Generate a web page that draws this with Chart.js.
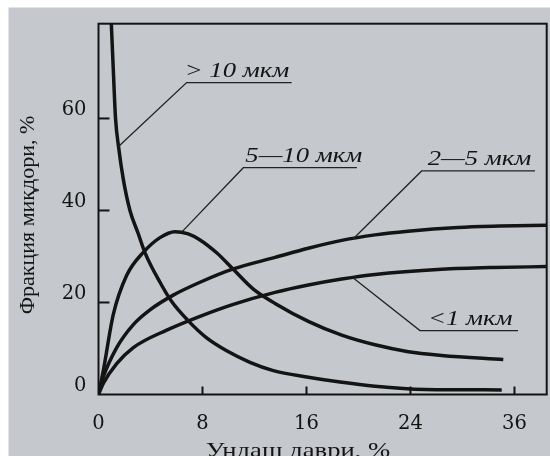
<!DOCTYPE html>
<html><head><meta charset="utf-8">
<script src="https://cdn.jsdelivr.net/npm/chart.js@4"></script>
<style>html,body{margin:0;padding:0;background:#fff;overflow:hidden}#wrap{width:550px;height:456px;position:relative}</style>
</head><body><div id="wrap"><canvas id="c" width="550" height="456"></canvas></div>
<script>
// ---- data ----
const xTickValues = [0, 8, 16, 24, 32];
const xTickLabels = ['0', '8', '16', '24', '36'];
const yTickValues = [0, 20, 40, 60];
const seriesNames = ['> 10 мкм', '5—10 мкм', '2—5 мкм', '<1 мкм'];
const xTitle = 'Ундаш даври, %';
const yTitle = 'Фракция миқдори, %';

const over10X = [0.98, 1.14, 1.31, 1.54, 1.92, 2.42, 3.04, 3.58, 4.73, 5.63, 6.91, 8.32, 9.86, 11.65, 13.45, 16.02, 18.58, 21.27, 25.12, 31.02];
const over10Y = [81.0, 70.5, 60.0, 53.9, 46.6, 40.0, 35.1, 30.8, 24.4, 20.2, 16.0, 12.3, 9.5, 7.0, 5.2, 3.8, 2.7, 1.8, 1.1, 1.0];

const f5to10X = [0, 0.37, 1.14, 2.17, 3.45, 4.73, 5.88, 6.9, 7.81, 9.09, 10.37, 11.91, 13.58, 16.14, 18.71, 21.27, 23.83, 26.4, 31.14];
const f5to10Y = [0, 5.2, 17.4, 25.9, 30.9, 34.1, 35.4, 34.9, 33.6, 30.8, 27.2, 22.9, 19.8, 15.9, 12.9, 10.8, 9.3, 8.5, 7.6];

const f2to5X = [0, 0.37, 1.4, 2.68, 3.96, 5.75, 7.81, 10.37, 13.58, 16.14, 18.71, 21.27, 23.81, 27.65, 30.88, 34.48];
const f2to5Y = [0, 3.8, 10.2, 15.2, 18.4, 21.6, 24.4, 27.3, 29.8, 31.8, 33.5, 34.7, 35.5, 36.3, 36.6, 36.8];

const under1X = [0, 0.37, 1.4, 2.68, 5.25, 7.81, 10.37, 13.58, 16.14, 18.71, 21.27, 26.4, 30.4, 34.48];
const under1Y = [0, 2.4, 6.7, 10.2, 14.0, 17.0, 19.6, 22.2, 23.8, 25.1, 26.1, 27.2, 27.6, 27.8];

// ---- rendering ----
const SERIF = '"Liberation Serif", "DejaVu Serif", serif';
const TICKFONT = '"DejaVu Serif", "Liberation Serif", serif';
const INK = '#141414';
const STRETCH = 1.27;
const toPts = (xs, ys) => xs.map((v, i) => ({x: v, y: ys[i]}));

const ds = (label, xs, ys) => ({
  label, data: toPts(xs, ys), borderColor: INK, borderWidth: 3.5,
  pointRadius: 0, fill: false, cubicInterpolationMode: 'monotone'
});

function stretchedText(c, text, x, y) {
  c.save();
  c.translate(x, y);
  c.scale(STRETCH, 1);
  c.fillText(text, 0, 0);
  c.restore();
}

const paper = {
  id: 'paper',
  beforeDraw(chart) {
    const c = chart.ctx;
    c.save();
    c.fillStyle = '#ffffff';
    c.fillRect(0, 0, chart.width, chart.height);
    c.fillStyle = '#c5c8cc';
    c.fillRect(8.5, 7.5, chart.width - 8.5, chart.height - 7.5);
    c.restore();
  },
  afterDatasetsDraw(chart) {
    const c = chart.ctx, a = chart.chartArea, xs = chart.scales.x, ys = chart.scales.y;
    c.save();
    // frame
    c.strokeStyle = INK; c.lineWidth = 2;
    c.strokeRect(a.left, a.top, a.right - a.left, a.bottom - a.top);
    // inward ticks
    xs.ticks.forEach(t => {
      if (t.value === 0) return;
      const px = xs.getPixelForValue(t.value);
      c.beginPath(); c.moveTo(px, a.bottom); c.lineTo(px, a.bottom - 8); c.stroke();
    });
    ys.ticks.forEach(t => {
      if (t.value === 0) return;
      const py = ys.getPixelForValue(t.value);
      c.beginPath(); c.moveTo(a.left, py); c.lineTo(a.left + 11, py); c.stroke();
    });
    // leader labels
    const notes = [
      {i: 0, pt: [1.54, 53.9], el: [6.78, 67.8], end: 14.86, dx: -2},
      {i: 1, pt: [6.4, 35.3], el: [11.14, 49.3], end: 19.88, dx: 2},
      {i: 2, pt: [19.58, 33.8], el: [24.86, 48.6], end: 33.58, dx: 6},
      {i: 3, pt: [19.6, 25.3], el: [24.73, 13.9], end: 32.27, dx: 8}
    ];
    c.lineWidth = 1.3; c.strokeStyle = '#222';
    c.fillStyle = INK;
    c.font = 'italic 21px ' + SERIF;
    c.textBaseline = 'alphabetic'; c.textAlign = 'left';
    notes.forEach(n => {
      const p0x = xs.getPixelForValue(n.pt[0]), p0y = ys.getPixelForValue(n.pt[1]);
      const ex = xs.getPixelForValue(n.el[0]), ey = ys.getPixelForValue(n.el[1]);
      const endx = xs.getPixelForValue(n.end);
      c.beginPath(); c.moveTo(p0x, p0y); c.lineTo(ex, ey); c.lineTo(endx, ey); c.stroke();
      stretchedText(c, seriesNames[n.i], ex + n.dx, ey - 6);
    });
    c.restore();
  },
  afterDraw(chart) {
    const c = chart.ctx;
    c.save();
    c.fillStyle = INK;
    c.font = '21px ' + SERIF;
    c.textAlign = 'center';
    c.textBaseline = 'alphabetic';
    stretchedText(c, xTitle, 298, 457);
    c.font = '22px ' + SERIF;
    c.translate(28, 215);
    c.rotate(-Math.PI / 2);
    c.textBaseline = 'middle';
    c.fillText(yTitle, 0, 0);
    c.restore();
  }
};

new Chart(document.getElementById('c'), {
  type: 'line',
  data: {
    datasets: [
      ds(seriesNames[0], over10X, over10Y),
      ds(seriesNames[1], f5to10X, f5to10Y),
      ds(seriesNames[2], f2to5X, f2to5Y),
      ds(seriesNames[3], under1X, under1Y)
    ]
  },
  options: {
    responsive: false, animation: false, devicePixelRatio: 1,
    layout: {padding: {left: 0, top: 16.7, right: 3.3, bottom: 0}},
    plugins: {legend: {display: false}, tooltip: {enabled: false}},
    scales: {
      x: {
        type: 'linear', min: 0, max: 34.48,
        afterBuildTicks: s => { s.ticks = xTickValues.map(v => ({value: v})); },
        afterFit: s => { s.height = 61.5; },
        ticks: {
          callback: v => xTickLabels[xTickValues.indexOf(v)],
          font: {family: TICKFONT, size: 19.5}, color: INK, padding: 18,
          maxRotation: 0, autoSkip: false
        },
        grid: {display: false, drawTicks: false, tickLength: 0},
        border: {display: false}
      },
      y: {
        type: 'linear', min: 0, max: 80.6,
        afterBuildTicks: s => { s.ticks = yTickValues.map(v => ({value: v})); },
        afterFit: s => { s.width = 98.5; },
        ticks: {font: {family: TICKFONT, size: 19.5}, color: INK, padding: 12, labelOffset: -9, autoSkip: false},
        grid: {display: false, drawTicks: false, tickLength: 0},
        border: {display: false}
      }
    }
  },
  plugins: [paper]
});
</script></body></html>
